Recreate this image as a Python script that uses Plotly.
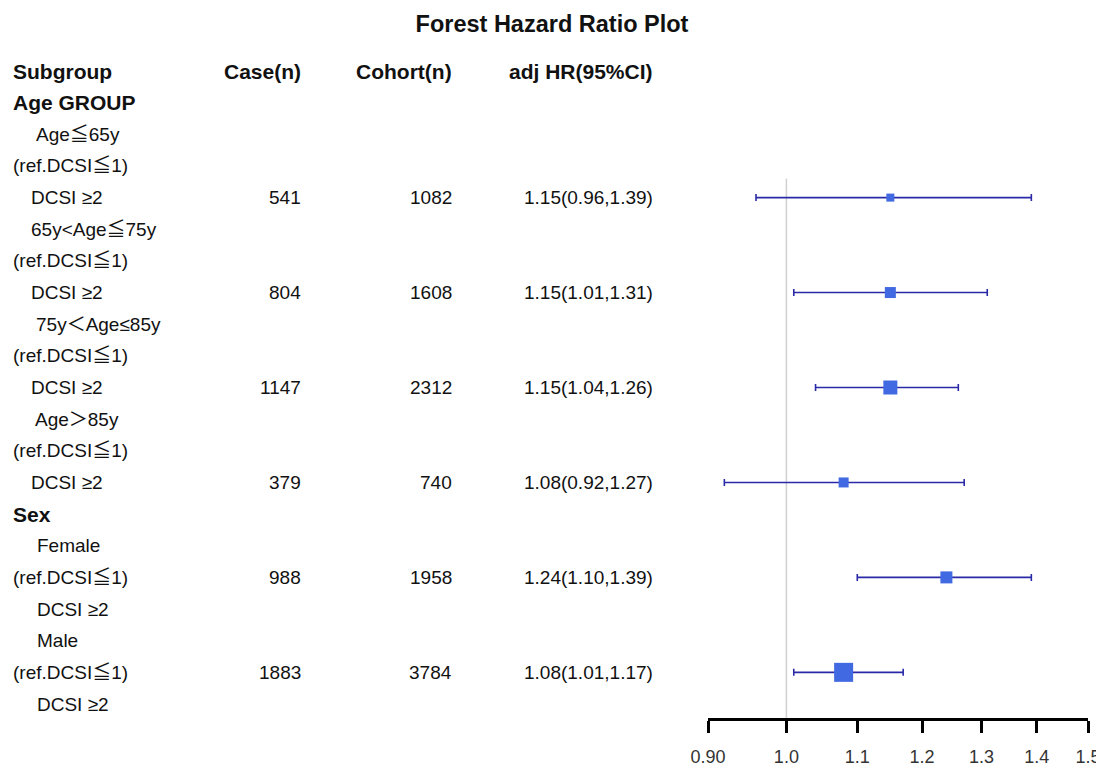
import math
import plotly.graph_objects as go

# ---------------- data ----------------
title = "Forest Hazard Ratio Plot"
headers = ["Subgroup", "Case(n)", "Cohort(n)", "adj HR(95%CI)"]
labels = ["Age GROUP", "Age≦65y", "(ref.DCSI≦1)", "DCSI ≥2",
          "65y<Age≦75y", "(ref.DCSI≦1)", "DCSI ≥2",
          "75y＜Age≤85y", "(ref.DCSI≦1)", "DCSI ≥2",
          "Age＞85y", "(ref.DCSI≦1)", "DCSI ≥2",
          "Sex", "Female", "(ref.DCSI≦1)", "DCSI ≥2",
          "Male", "(ref.DCSI≦1)", "DCSI ≥2"]
bold_rows = ["Age GROUP", "Sex"]
est_rows = [4, 7, 10, 13, 16, 19]          # row index (header = 0)
cases = ["541", "804", "1147", "379", "988", "1883"]
cohort = ["1082", "1608", "2312", "740", "1958", "3784"]
hr = [1.15, 1.15, 1.15, 1.08, 1.24, 1.08]
lo = [0.96, 1.01, 1.04, 0.92, 1.10, 1.01]
hi = [1.39, 1.31, 1.26, 1.27, 1.39, 1.17]
tick_vals = [0.9, 1.0, 1.1, 1.2, 1.3, 1.4, 1.5]
tick_text = ["0.90", "1.0", "1.1", "1.2", "1.3", "1.4", "1.5"]

# ---------------- style ----------------
W, H = 1104, 766
OFF = 8   # page body margin offset
label_indent_px = [0, 23, 0, 18, 18, 0, 18, 23, 0, 18, 22, 0, 18,
                   0, 24, 0, 24, 24, 0, 24]
marker_sizes = [8, 11, 14, 10, 12, 19]
FONT = "Liberation Sans, Arial, Noto Sans CJK JP, sans-serif"
REG = 19
BOLD = 21
row0_px, row_step = 71 - OFF, 31.65
axis_px = 718 - OFF
left_px = 14 - OFF - 3
case_px, coh_px, hr_px = 300 - OFF + 3, 451 - OFF + 3, 652 - OFF + 3

y_top = -row0_px / row_step
y_bot = (axis_px - row0_px) / row_step

fig = go.Figure()

fig.add_trace(go.Scatter(
    x=hr, y=est_rows, mode="markers",
    marker=dict(symbol="square", size=marker_sizes, color="#4169E1",
                opacity=1, line=dict(width=0)),
    error_x=dict(type="data", symmetric=False,
                 array=[h - m for h, m in zip(hi, hr)],
                 arrayminus=[m - l for m, l in zip(hr, lo)],
                 color="#2a2aa8", thickness=1.6, width=3.5),
    showlegend=False, hoverinfo="skip"))

# reference line at HR = 1
fig.add_shape(type="line", xref="x", yref="y", x0=1.0, x1=1.0,
              y0=3.4, y1=y_bot, line=dict(color="#d0d0d0", width=1.5),
              layer="below")

ann = []
def px(x):
    return x / W

# headers
ann.append(dict(text="<b>%s</b>" % headers[0], x=px(left_px), xanchor="left", y=0))
ann.append(dict(text="<b>%s</b>" % headers[1], x=px(case_px), xanchor="right", y=0))
ann.append(dict(text="<b>%s</b>" % headers[2], x=px(coh_px), xanchor="right", y=0))
ann.append(dict(text="<b>%s</b>" % headers[3], x=px(hr_px), xanchor="right", y=0))

for i, lab in enumerate(labels):
    row = i + 1
    txt = "<b>%s</b>" % lab if lab in bold_rows else lab
    ann.append(dict(text=txt, x=px(left_px + label_indent_px[i]), xanchor="left", y=row))

for r, c, co, h, l, u in zip(est_rows, cases, cohort, hr, lo, hi):
    ann.append(dict(text=c, x=px(case_px), xanchor="right", y=r))
    ann.append(dict(text=co, x=px(coh_px), xanchor="right", y=r))
    ann.append(dict(text="%.2f(%.2f,%.2f)" % (h, l, u), x=px(hr_px), xanchor="right", y=r))

for a in ann:
    a.update(xref="paper", yref="y", yanchor="middle", showarrow=False)
    a["font"] = dict(size=BOLD if a["text"].startswith("<b>") else REG,
                     family=FONT, color="#111")

fig.update_layout(
    width=W, height=H,
    margin=dict(l=0, r=0, t=0, b=0, pad=0),
    paper_bgcolor="white", plot_bgcolor="white",
    title=dict(text="<b>%s</b>" % title, x=(552 - OFF) / W, xanchor="center",
               y=1 - (24 - OFF) / H, yanchor="middle", yref="container",
               font=dict(family=FONT, size=23.5, color="#111")),
    annotations=ann,
    xaxis=dict(type="log", domain=[(708 - OFF) / W, (1088 - OFF) / W],
               range=[math.log10(tick_vals[0]), math.log10(tick_vals[-1])],
               tickvals=tick_vals, ticktext=tick_text, automargin=False,
               showline=True, linecolor="black", linewidth=3,
               ticks="outside", ticklen=12, tickwidth=3, tickcolor="black",
               showgrid=False, zeroline=False, ticklabelstandoff=8,
               tickfont=dict(family=FONT, size=18, color="#333"),
               fixedrange=True),
    yaxis=dict(domain=[1 - axis_px / H, 1], range=[y_bot, y_top], automargin=False,
               visible=False, showgrid=False, zeroline=False, fixedrange=True),
)

fig.write_html("out.html")
